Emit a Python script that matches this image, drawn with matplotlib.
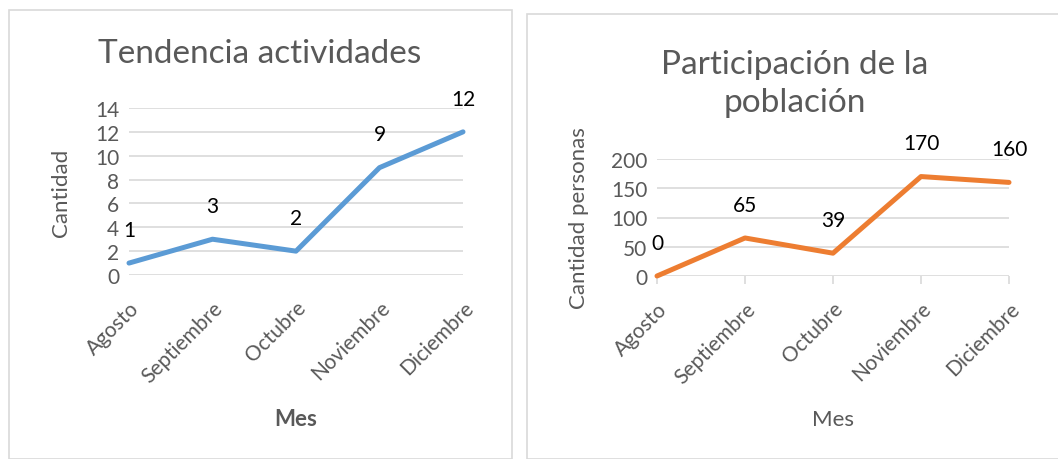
import matplotlib
matplotlib.use("Agg")
import matplotlib.pyplot as plt
from matplotlib.patches import Rectangle

# data
meses = ["Agosto", "Septiembre", "Octubre", "Noviembre", "Diciembre"]
actividades = [1, 3, 2, 9, 12]
poblacion = [0, 65, 39, 170, 160]

plt.rcParams['font.family'] = ['Lato', 'DejaVu Sans']
gray = '#595959'
grid_c = '#d9d9d9'

fig = plt.figure(figsize=(10.58, 4.6), dpi=100)
W, H = 1058, 460

# chart frames
fig.patches.append(Rectangle((9 / W, 0), (512 - 9) / W, 1 - 11 / H, transform=fig.transFigure,
                             fill=False, edgecolor=grid_c, linewidth=1.2))
fig.patches.append(Rectangle((527 / W, 0), (1070 - 527) / W, 1 - 15 / H, transform=fig.transFigure,
                             fill=False, edgecolor=grid_c, linewidth=1.2))


def style(ax, ymax, step, ticks_below):
    ax.set_xlim(0, len(meses) - 1)
    ax.set_ylim(0, ymax)
    ax.set_yticks(range(0, ymax + 1, step))
    ax.set_xticks(range(len(meses)))
    ax.set_xticklabels(meses, rotation=45, ha='right', rotation_mode='anchor')
    ax.yaxis.grid(True, color=grid_c, linewidth=1.2)
    ax.set_axisbelow(True)
    for s in ax.spines.values():
        s.set_visible(False)
    ax.tick_params(axis='y', length=0, labelsize=15, labelcolor=gray, pad=7)
    if ticks_below:
        ax.tick_params(axis='x', length=6, color=grid_c, width=1.2, labelsize=15, labelcolor=gray, pad=10)
    else:
        ax.tick_params(axis='x', length=0, labelsize=15, labelcolor=gray, pad=16)


# Left chart
ax1 = fig.add_axes([129 / W, 1 - 276 / H, (463 - 129) / W, (276 - 109) / H])
ax1.plot(range(len(meses)), actividades, color='#5B9BD5', linewidth=3.6,
         solid_capstyle='round', clip_on=False)
style(ax1, 14, 2, False)
for i, v in enumerate(actividades):
    ax1.annotate(str(v), (i, v), xytext=(0, 24), textcoords='offset points',
                 ha='center', va='center', fontsize=15, color='black')
ax1.set_ylabel('Cantidad', fontsize=16, color=gray, labelpad=17)
ax1.set_xlabel('Mes', fontsize=16, color=gray, fontweight='bold', labelpad=16)
fig.text(260 / W, 1 - 54 / H, 'Tendencia actividades', ha='center', va='center',
         fontsize=24, color=gray)

# Right chart
ax2 = fig.add_axes([657 / W, 1 - 277 / H, (1009 - 657) / W, (277 - 160) / H])
ax2.plot(range(len(meses)), poblacion, color='#ED7D31', linewidth=3.6,
         solid_capstyle='round', clip_on=False)
style(ax2, 200, 50, True)
for i, v in enumerate(poblacion):
    ax2.annotate(str(v), (i, v), xytext=(0, 24), textcoords='offset points',
                 ha='center', va='center', fontsize=15, color='black')
ax2.set_ylabel('Cantidad personas', fontsize=16, color=gray, labelpad=16)
ax2.set_xlabel('Mes', fontsize=16, color=gray, labelpad=16)
fig.text(795 / W, 1 - 84 / H, 'Participación de la\npoblación', ha='center', va='center',
         fontsize=24, color=gray, linespacing=1.35)

fig.savefig('out.png', dpi=100)
